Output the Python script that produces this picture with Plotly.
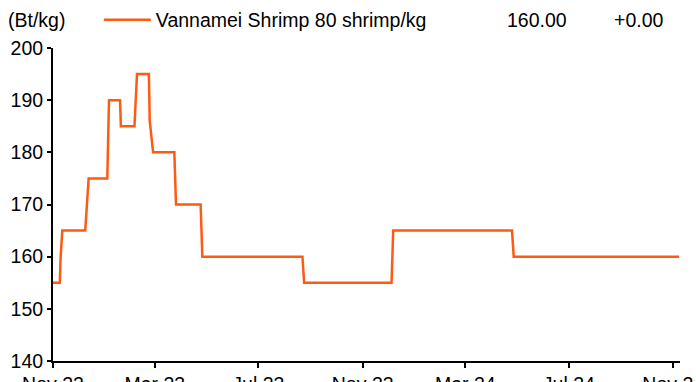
import plotly.graph_objects as go

# step points of the weekly price series (date, Bt/kg)
dates = [
    "2022-11-01", "2022-11-09", "2022-11-10", "2022-11-12", "2022-12-09",
    "2022-12-13", "2023-01-04", "2023-01-06", "2023-01-19", "2023-01-20",
    "2023-02-05", "2023-02-08", "2023-02-22", "2023-02-23", "2023-02-27",
    "2023-03-24", "2023-03-26", "2023-04-24", "2023-04-26", "2023-08-22",
    "2023-08-24", "2023-12-05", "2023-12-07", "2024-04-25", "2024-04-27",
    "2024-11-08",
]
prices = [
    155, 155, 160, 165, 165,
    175, 175, 190, 190, 185,
    185, 195, 195, 186, 180,
    180, 170, 170, 160, 160,
    155, 155, 165, 165, 160,
    160,
]
series_name = "Vannamei Shrimp 80 shrimp/kg"
last_value = "160.00"
change = "+0.00"
unit = "(Bt/kg)"

FONT = "Liberation Sans, Arial, sans-serif"
FS = 19.5
orange = "#FF5A14"

fig = go.Figure()
fig.add_trace(go.Scatter(x=dates, y=prices, mode="lines", name=series_name,
                         line=dict(color=orange, width=2.5)))

fig.update_layout(
    width=696, height=382,
    margin=dict(l=53, r=16, t=48, b=21, autoexpand=False),
    paper_bgcolor="white", plot_bgcolor="white",
    font=dict(family=FONT, size=FS, color="black"),
    showlegend=True,
    legend=dict(orientation="h", xref="container", yref="container",
                x=0.142, y=1 - 20 / 382, xanchor="left", yanchor="middle",
                font=dict(size=FS), itemwidth=47, bgcolor="rgba(0,0,0,0)"),
    annotations=[
        dict(text=unit, x=-0.075, y=1.0895, xref="paper", yref="paper", xanchor="left",
             yanchor="middle", showarrow=False, font=dict(size=FS)),
        dict(text=last_value, x=0.721, y=1.0895, xref="paper", yref="paper", xanchor="left",
             yanchor="middle", showarrow=False, font=dict(size=FS)),
        dict(text=change, x=0.891, y=1.0895, xref="paper", yref="paper", xanchor="left",
             yanchor="middle", showarrow=False, font=dict(size=FS)),
    ],
)

fig.update_xaxes(
    type="date", range=["2022-11-01", "2024-11-09"],
    tick0="2022-11-01", dtick="M4", tickformat="%b %y",
    showgrid=False, zeroline=False, automargin=False, ticklabeloverflow="allow",
    showline=True, linecolor="black", linewidth=2,
    ticks="outside", ticklen=5, tickwidth=2, tickcolor="black",
)
fig.update_yaxes(
    range=[140, 200], dtick=10,
    showgrid=False, zeroline=False, automargin=False,
    showline=True, linecolor="black", linewidth=2,
    ticks="outside", ticklen=4, tickwidth=2, tickcolor="black",
)

fig.write_html("out.html", config={"displayModeBar": False},
               post_script="document.body.style.margin='0';")
